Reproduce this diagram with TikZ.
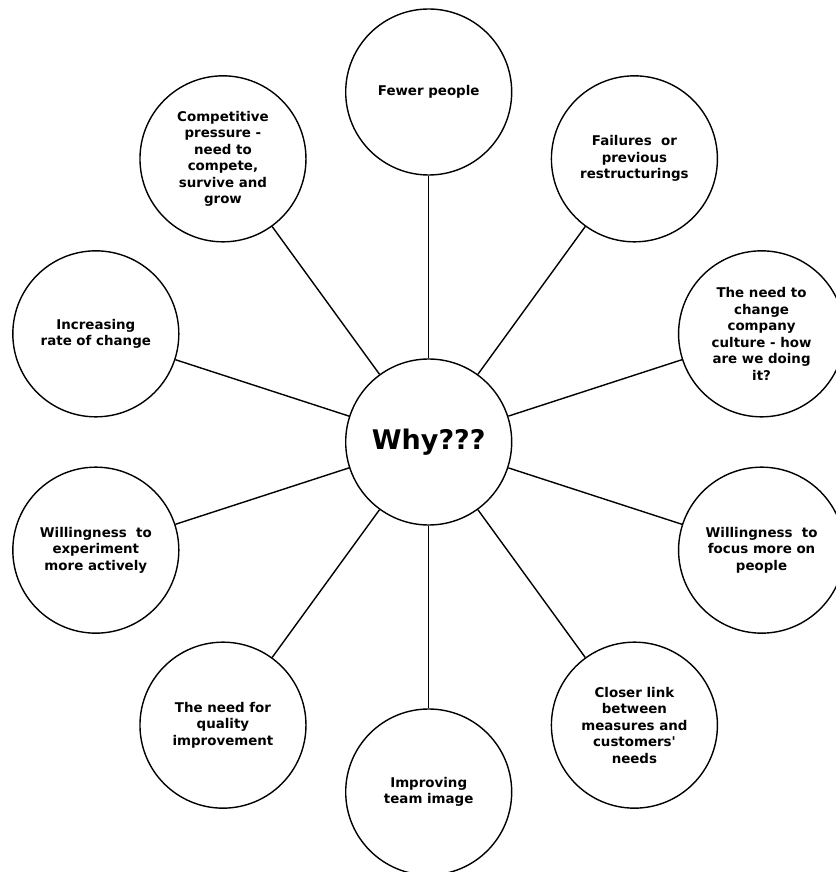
\documentclass[tikz,border=0pt]{standalone}
\usepackage{fontspec}
\setmainfont{DejaVu Sans}
\usepackage{xcolor}
\usepackage{tikz}
\colorlet{strokeColor}{black}
\colorlet{textColor}{black}
\colorlet{fillColor}{white}

\begin{document}
\begin{tikzpicture}[
    bubble/.style={
      circle,
      draw=strokeColor,
      fill=fillColor,
      line width=1.4bp,
      minimum size=166bp,
      inner sep=0pt,
      align=center,
      text=textColor,
      font=\fontsize{13.4bp}{16.5bp}\selectfont\bfseries,
    },
    spoke/.style={color=strokeColor, line width=1.4bp},
  ]
    \useasboundingbox (-428.7bp, -430bp) rectangle (407.3bp, 442bp);
    \node[bubble, font=\fontsize{27bp}{32bp}\selectfont\bfseries] (why) at (0, 0) {Why???};
    \begin{scope}
      \node[bubble] (fewer)       at (90:350bp)  {Fewer people};
      \node[bubble] (failures)    at (54:350bp)  {Failures\ \ or\\previous\\restructurings};
      \node[bubble] (culture)     at (18:350bp)  {The need to\\change\\company\\culture - how\\are we doing\\it?};
      \node[bubble] (focus)       at (-18:350bp) {Willingness\ \ to\\focus more on\\people};
      \node[bubble] (closer)      at (-54:350bp) {Closer link\\between\\measures and\\customers\textquotesingle\\needs};
      \node[bubble] (image)       at (-90:350bp) {Improving\\team image};
      \node[bubble] (quality)     at (-126:350bp) {The need for\\quality\\improvement};
      \node[bubble] (experiment)  at (-162:350bp) {Willingness\ \ to\\experiment\\more actively};
      \node[bubble] (rate)        at (162:350bp) {Increasing\\rate of change};
      \node[bubble] (competitive) at (126:350bp) {Competitive\\pressure -\\need to\\compete,\\survive and\\grow};
    \end{scope}
    \foreach \n in {fewer, failures, culture, focus, closer, image, quality, experiment, rate, competitive}
      \draw[spoke] (why) -- (\n);
  \end{tikzpicture}
\end{document}
